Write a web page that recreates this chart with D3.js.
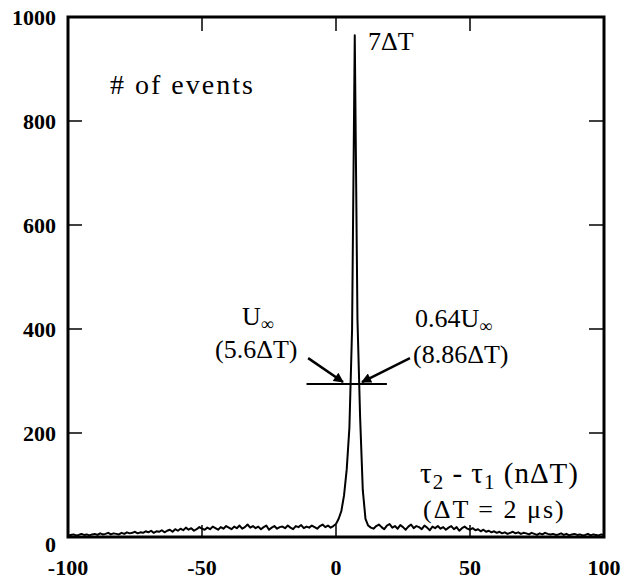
<!DOCTYPE html>
<html><head><meta charset="utf-8">
<script src="https://cdn.jsdelivr.net/npm/d3@7"></script>
<style>body{margin:0;background:#fff}svg{display:block}text{font-family:"Liberation Serif","Times New Roman",serif;fill:#000}</style>
</head><body><svg id="c" width="625" height="586"></svg>
<script>
// n from -100 to 100 (step 1)
const nStart = -100;
const counts = [
 3,4,5,3,4,6,4,5,3,5,
 6,4,7,5,6,8,5,7,6,5,
 8,6,9,7,8,10,7,9,8,11,
 9,12,8,11,10,13,9,12,14,10,
 15,12,16,13,18,14,17,12,15,19,
 16,14,18,15,20,17,14,19,16,21,
 18,15,20,17,22,16,19,24,18,21,
 17,20,15,19,22,14,18,21,16,19,
 20,17,22,18,15,21,19,23,17,20,
 18,22,19,16,21,24,19,22,18,21,
 25,35,50,80,130,210,400,965,420,230,90,35,22,
 18,16,21,24,19,15,22,25,
 18,21,16,23,19,14,20,24,17,21,
 19,15,22,18,13,20,17,21,16,19,
 14,18,21,15,19,12,17,20,16,14,
 17,13,15,11,14,10,12,9,11,8,
 10,7,9,6,8,10,7,9,6,8,
 7,5,8,6,4,7,5,8,6,5,
 6,4,5,7,4,6,3,5,6,4,
 5,3,4,6,3,5,4,3,5,4
];
const xTicks = [-100,-50,0,50,100];
const yTicks = [0,200,400,600,800,1000];
const innerTicksX = [-50,0,50];
const innerTicksY = [200,400,600,800];
const halfLevel = 294;            // horizontal marker level
const halfSpan = [-11, 19];       // extent of horizontal marker
const arrowsL = [[-10.4,344],[2.6,298]];
const arrowsR = [[27.6,344],[9.7,298]];

const svg = d3.select("#c");
const x = d3.scaleLinear().domain([-100,100]).range([68,604]);
const y = d3.scaleLinear().domain([0,1000]).range([537,17]);

const data = counts.map((v,i)=>({n:nStart+i, v}));

// tick labels
svg.append("g").selectAll("text").data(yTicks).join("text")
  .attr("x", x(-100)-12).attr("y", d=>y(d)).attr("dy", d=> d===0 ? "0.66em" : "0.35em")
  .attr("text-anchor","end").style("font-size","22px").style("font-weight","bold").text(d=>String(d));
svg.append("g").selectAll("text").data(xTicks).join("text")
  .attr("x", d=>x(d)).attr("y", y(0)+38).attr("text-anchor","middle")
  .style("font-size","22px").style("font-weight","bold").text(d=>String(d));

// inner ticks
const tk = svg.append("g").attr("stroke","#000").attr("stroke-width",1.5);
innerTicksY.forEach(v=>{
  tk.append("line").attr("x1",x(-100)).attr("x2",x(-100)+14).attr("y1",y(v)).attr("y2",y(v));
  tk.append("line").attr("x1",x(100)).attr("x2",x(100)-15).attr("y1",y(v)).attr("y2",y(v));
});
innerTicksX.forEach(v=>{
  tk.append("line").attr("x1",x(v)).attr("x2",x(v)).attr("y1",y(1000)).attr("y2",y(1000)+14);
  tk.append("line").attr("x1",x(v)).attr("x2",x(v)).attr("y1",y(0)).attr("y2",y(0)-12);
});

// data line
const line = d3.line().x(d=>x(d.n)).y(d=>y(d.v));
svg.append("path").datum(data).attr("d",line).attr("fill","none")
  .attr("stroke","#000").attr("stroke-width",2).attr("stroke-linejoin","round");

// frame
svg.append("rect").attr("x",x(-100)).attr("y",y(1000)).attr("width",x(100)-x(-100)).attr("height",y(0)-y(1000))
  .attr("fill","none").attr("stroke","#000").attr("stroke-width",3);

// annotation
svg.append("defs").append("marker").attr("id","ah").attr("viewBox","0 0 10 10").attr("refX",9).attr("refY",5)
  .attr("markerWidth",5).attr("markerHeight",4).attr("orient","auto").attr("markerUnits","strokeWidth")
  .append("path").attr("d","M0,0L10,5L0,10Z").attr("fill","#000");
svg.append("line").attr("x1",x(halfSpan[0])).attr("x2",x(halfSpan[1])).attr("y1",y(halfLevel)).attr("y2",y(halfLevel))
  .attr("stroke","#000").attr("stroke-width",2);
[arrowsL, arrowsR].forEach(a=>{
  svg.append("line").attr("x1",x(a[0][0])).attr("y1",y(a[0][1])).attr("x2",x(a[1][0])).attr("y2",y(a[1][1]))
    .attr("stroke","#000").attr("stroke-width",2.5).attr("marker-end","url(#ah)");
});

function lbl(xp, yp, size){ return svg.append("text").attr("x",xp).attr("y",yp).style("font-size",size+"px"); }
lbl(110,94,28).style("letter-spacing","2px").text("# of events");
lbl(368,50,26).text("7ΔT");
const u1 = lbl(242,325,26); u1.append("tspan").text("U"); u1.append("tspan").attr("dy",5).style("font-size","18px").text("∞");
lbl(215,358,26).text("(5.6ΔT)");
const u2 = lbl(415,327,26); u2.append("tspan").text("0.64U"); u2.append("tspan").attr("dy",5).style("font-size","18px").text("∞");
lbl(413,363,26).text("(8.86ΔT)");
const t = lbl(420,483,29).style("letter-spacing","1px");
t.append("tspan").text("τ");
t.append("tspan").attr("dy",6).style("font-size","21px").text("2");
t.append("tspan").attr("dy",-6).text(" - τ");
t.append("tspan").attr("dy",6).style("font-size","21px").text("1");
t.append("tspan").attr("dy",-6).text(" (nΔT)");
lbl(423,518,26).style("letter-spacing","2px").text("(ΔT = 2 μs)");
</script></body></html>
